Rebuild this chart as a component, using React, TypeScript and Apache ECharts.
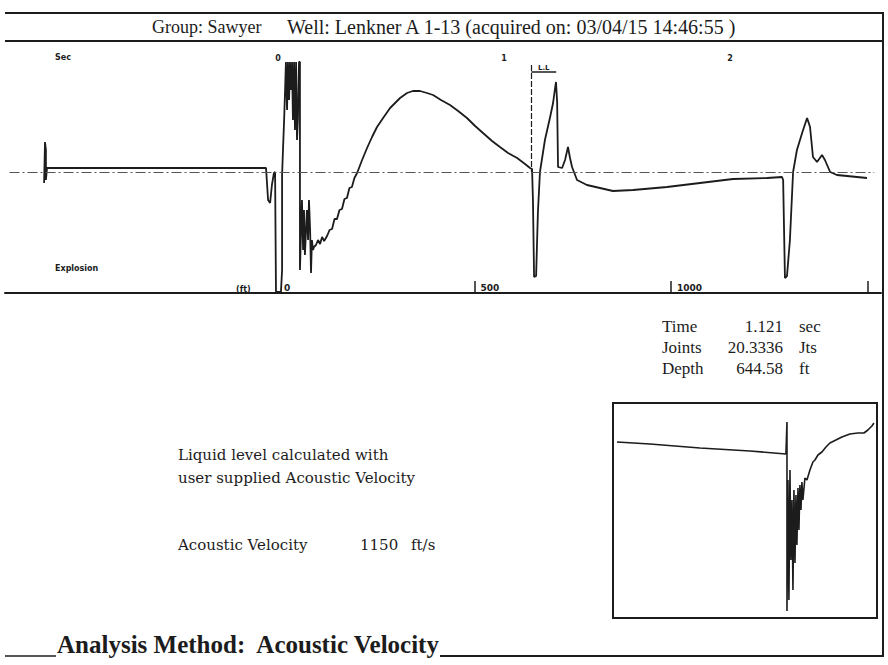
import React, { useEffect, useRef } from "react";
import * as echarts from "echarts";

// Main acoustic trace: time (s) after shot, amplitude (arbitrary units)
const traceTimes = [
  -1.035, -1.031, -1.027, -1.027, -1.022, -1.009, -0.053, -0.044, -0.035, -0.027, -0.018, -0.013,
  -0.009, 0.013, 0.018, 0.018, 0.022, 0.027, 0.031, 0.035, 0.040, 0.044, 0.049, 0.053, 0.058,
  0.062, 0.066, 0.071, 0.075, 0.080, 0.084, 0.088, 0.093, 0.097, 0.097, 0.102, 0.106, 0.111,
  0.115, 0.119, 0.124, 0.128, 0.133, 0.137, 0.142, 0.146, 0.150, 0.155, 0.159, 0.168, 0.177,
  0.186, 0.195, 0.204, 0.217, 0.228, 0.239, 0.250, 0.261, 0.272, 0.283, 0.294, 0.305, 0.316,
  0.327, 0.338, 0.350, 0.372, 0.394, 0.416, 0.438, 0.465, 0.496, 0.540, 0.571, 0.597, 0.628,
  0.659, 0.686, 0.721, 0.761, 0.797, 0.836, 0.872, 0.907, 0.947, 0.982, 1.018, 1.058, 1.093,
  1.115, 1.124, 1.128, 1.133, 1.142, 1.150, 1.159, 1.181, 1.204, 1.217, 1.226, 1.230, 1.235,
  1.239, 1.257, 1.270, 1.283, 1.292, 1.301, 1.323, 1.367, 1.482, 1.571, 1.721, 1.867, 2.013,
  2.164, 2.230, 2.235, 2.243, 2.252, 2.265, 2.279, 2.296, 2.319, 2.341, 2.354, 2.367, 2.385,
  2.407, 2.420, 2.443, 2.473, 2.606,
];
const traceAmps = [
  -11, 30, 22, -8, 4, 4, 4, -28, -31, -13, -1, 0,
  -120, -120, -98, -3, 22, 52, 80, 110, 62, 110, 72, 110, 82,
  110, 52, 110, 42, 110, 32, 52, 110, 110, -98, -58, -28, -78,
  -38, -83, -58, -38, -68, -28, -58, -101, -68, -78, -75, -73, -68,
  -72, -65, -69, -64, -58, -57, -47, -47, -38, -37, -27, -26, -16,
  -15, -6, -1, 12, 24, 35, 45, 54, 64, 74, 79, 81, 81,
  79, 77, 72, 67, 61, 54, 46, 39, 31, 25, 19, 14, 8,
  4, 3, -28, -105, -104, -40, 0, 32, 55, 69, 84, 90, 70,
  5, 4, 12, 25, 14, 5, -8, -13, -19, -18, -15, -11, -7,
  -6, -5, -8, -106, -104, -68, 0, 22, 39, 54, 45, 15, 10,
  17, 12, 0, -3, -6,
];

// Inset: magnified view around the liquid-level echo
const insetTimes = [
  0.9245, 0.962, 1.0188, 1.0756, 1.1165, 1.1177, 1.1177, 1.1188, 1.1199, 1.1211, 1.1222,
  1.1234, 1.1245, 1.1256, 1.1268, 1.1279, 1.129, 1.1302, 1.1313, 1.1324, 1.1336, 1.1347,
  1.1358, 1.1381, 1.1404, 1.1438, 1.1472, 1.1495, 1.1529, 1.1574, 1.162, 1.1665, 1.1733,
  1.1801, 1.1892, 1.1983, 1.2051, 1.2097, 1.2142, 1.2165,
];
const insetAmps = [
  176, 174, 170, 167, 164, 196, 7, 138, 18, 148, 58,
  118, 28, 128, 55, 123, 73, 130, 88, 133, 108, 136,
  118, 140, 138, 148, 156, 158, 163, 166, 171, 175, 178,
  181, 184, 185, 185, 188, 192, 195,
];

const timeTickValues = [0, 1, 2];
const depthTickValues = [500, 1000, 1500];
const depthLabelValues = [0, 500, 1000];

const liquidTime = 1.121; // sec
const jointsCount = "20.3336";
const depthFt = "644.58";
const acousticVelocity = 1150; // ft/s
const feetPerSecond = acousticVelocity / 2;

const T_MIN = -1.208;
const T_MAX = 2.668;

const SERIF = "'Liberation Serif', 'Times New Roman', serif";
const WIDE_SERIF = "'DejaVu Serif', serif";
const SANS = "'DejaVu Sans', sans-serif";
const INK = "#1c1c1c";

export default function App() {
  const ref = useRef<HTMLDivElement>(null);
  useEffect(() => {
    if (!ref.current) return;
    const chart = echarts.init(ref.current, undefined, { renderer: "svg" });
    const txt = (x: number, y: number, text: string, extra: any = {}) => ({
      type: "text",
      x,
      y,
      style: {
        text,
        fill: INK,
        font: `15px ${SERIF}`,
        textVerticalAlign: "middle",
        ...extra,
      },
    });
    const ln = (x1: number, y1: number, x2: number, y2: number, w = 2) => ({
      type: "line",
      shape: { x1, y1, x2, y2 },
      style: { stroke: INK, lineWidth: w },
    });
    chart.setOption({
      animation: false,
      backgroundColor: "#ffffff",
      grid: [
        { left: 5, right: 7, top: 44, bottom: 372, outerBoundsMode: "none" },
        {
          left: 613,
          top: 403,
          width: 264,
          height: 215,
          show: true,
          borderColor: INK,
          borderWidth: 2,
          backgroundColor: "transparent",
          outerBoundsMode: "none",
        },
      ],
      xAxis: [
        {
          gridIndex: 0,
          type: "value",
          min: T_MIN,
          max: T_MAX,
          position: "top",
          axisLine: { show: false },
          axisTick: { show: false },
          splitLine: { show: false },
          axisLabel: {
            inside: true,
            customValues: timeTickValues,
            formatter: (v: number) => String(v),
            fontSize: 8,
            fontWeight: "bold",
            fontFamily: SANS,
            color: INK,
            margin: 10,
          },
        },
        {
          gridIndex: 0,
          type: "value",
          min: T_MIN * feetPerSecond,
          max: T_MAX * feetPerSecond,
          position: "bottom",
          axisLine: { show: true, onZero: false, lineStyle: { color: INK, width: 2 } },
          axisTick: {
            show: true,
            inside: true,
            length: 12,
            customValues: depthTickValues,
            lineStyle: { color: INK, width: 1.5 },
          },
          splitLine: { show: false },
          axisLabel: {
            inside: true,
            customValues: depthLabelValues,
            formatter: (v: number) => String(v),
            align: "left",
            padding: [0, 0, 0, 6],
            fontSize: 9,
            fontWeight: "bold",
            fontFamily: SANS,
            color: INK,
            margin: 1,
          },
        },
        { gridIndex: 1, type: "value", min: 0.92, max: 1.22, show: false },
      ],
      yAxis: [
        { gridIndex: 0, type: "value", min: -121, max: 128, show: false },
        { gridIndex: 1, type: "value", min: 0, max: 215, show: false },
      ],
      series: [
        {
          type: "line",
          xAxisIndex: 0,
          yAxisIndex: 0,
          data: traceTimes.map((t, i) => [t, traceAmps[i]]),
          showSymbol: false,
          lineStyle: { color: INK, width: 1.8 },
          z: 3,
          markLine: {
            silent: true,
            symbol: "none",
            label: { show: false },
            data: [
              [
                { coord: [T_MIN + 0.02, 0], lineStyle: { color: "#555", width: 1, type: [10, 3, 2, 3] } },
                { coord: [T_MAX - 0.03, 0] },
              ],
              [
                { coord: [liquidTime, 107], lineStyle: { color: INK, width: 1.2, type: [6, 2] } },
                { coord: [liquidTime, 0] },
              ],
              [
                {
                  coord: [liquidTime, 100],
                  lineStyle: { color: INK, width: 1.5, type: "solid" },
                  label: {
                    show: true,
                    position: "middle",
                    formatter: "L.L",
                    fontSize: 7,
                    fontWeight: "bold",
                    fontFamily: SANS,
                    color: INK,
                    distance: 1,
                  },
                },
                { coord: [liquidTime + 0.11, 100] },
              ],
            ],
          },
        },
        {
          type: "line",
          xAxisIndex: 2,
          yAxisIndex: 1,
          data: insetTimes.map((t, i) => [t, insetAmps[i]]),
          showSymbol: false,
          lineStyle: { color: INK, width: 1.6 },
        },
      ],
      graphic: [
        ln(5, 13, 884, 13, 2),
        ln(5, 41, 884, 41, 2),
        ln(883, 13, 883, 656, 2),
        ln(5, 656, 56, 656, 1.5),
        ln(440, 656, 884, 656, 2),
        txt(152, 27, "Group: Sawyer", { font: `18px ${SERIF}` }),
        txt(287, 27, "Well: Lenkner A 1-13 (acquired on: 03/04/15 14:46:55 )", {
          font: `20px ${SERIF}`,
        }),
        txt(55, 57, "Sec", { font: `bold 8px ${SANS}` }),
        txt(55, 268, "Explosion", { font: `bold 8px ${SANS}` }),
        txt(236, 289, "(ft)", { font: `bold 8px ${SANS}` }),
        txt(662, 326, "Time", { font: `17px ${SERIF}` }),
        txt(783, 326, liquidTime.toFixed(3), { font: `17px ${SERIF}`, textAlign: "right" }),
        txt(799, 326, "sec", { font: `17px ${SERIF}` }),
        txt(662, 347, "Joints", { font: `17px ${SERIF}` }),
        txt(783, 347, jointsCount, { font: `17px ${SERIF}`, textAlign: "right" }),
        txt(799, 347, "Jts", { font: `17px ${SERIF}` }),
        txt(662, 368, "Depth", { font: `17px ${SERIF}` }),
        txt(783, 368, depthFt, { font: `17px ${SERIF}`, textAlign: "right" }),
        txt(799, 368, "ft", { font: `17px ${SERIF}` }),
        txt(178, 455, "Liquid level calculated with", { font: `15px ${WIDE_SERIF}` }),
        txt(178, 478, "user supplied Acoustic Velocity", { font: `15px ${WIDE_SERIF}` }),
        txt(178, 545, "Acoustic Velocity", { font: `15px ${WIDE_SERIF}` }),
        txt(360, 545, String(acousticVelocity), { font: `15px ${WIDE_SERIF}` }),
        txt(411, 545, "ft/s", { font: `15px ${WIDE_SERIF}` }),
        txt(57, 644, "Analysis Method:  Acoustic Velocity", { font: `bold 25px ${SERIF}` }),
      ],
    });
    return () => chart.dispose();
  }, []);
  return (
    <div
      ref={ref}
      style={{ position: "fixed", left: 0, top: 0, width: 888, height: 665, background: "#fff" }}
    />
  );
}
